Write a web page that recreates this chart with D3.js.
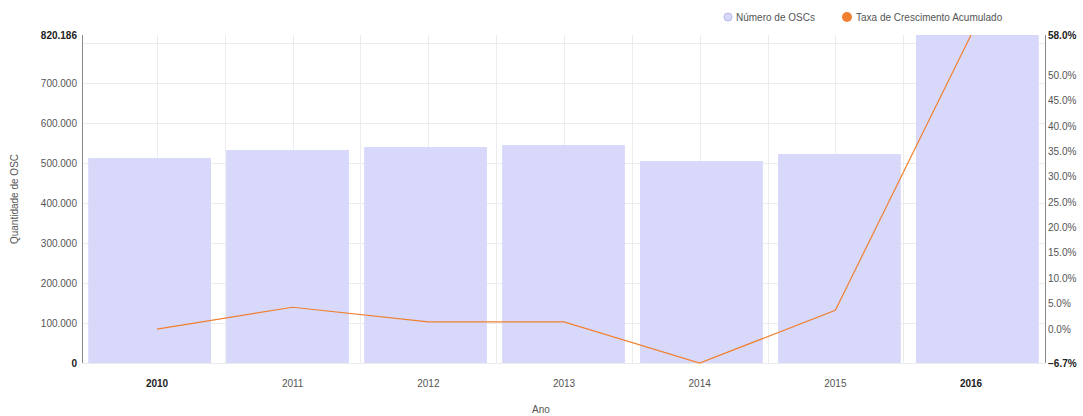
<!DOCTYPE html>
<html>
<head>
<meta charset="utf-8">
<script src="https://cdn.jsdelivr.net/npm/d3@7"></script>
<style>
  html, body { margin: 0; padding: 0; background: #fff; }
  svg { display: block; font-family: "Liberation Sans", Arial, sans-serif; }
</style>
</head>
<body>
<svg id="chart" width="1083" height="416"></svg>
<script>
// Número de OSCs por ano e taxa de crescimento acumulado
const years = ["2010", "2011", "2012", "2013", "2014", "2015", "2016"];
const oscCounts = [512500, 532500, 540000, 545000, 505000, 522500, 820186];
const growthRates = [0.0, 4.3, 1.4, 1.4, -6.7, 3.7, 58.0];
const leftTicks = [0, 100000, 200000, 300000, 400000, 500000, 600000, 700000, 800000];
const rightTicks = [0, 5, 10, 15, 20, 25, 30, 35, 40, 45, 50, 55];
const legendLabels = ["Número de OSCs", "Taxa de Crescimento Acumulado"];

const barColor = "#d8d8fb";
const lineColor = "#f0802f";
const textColor = "#555";

const svg = d3.select("#chart");
const m = { left: 82, right: 1045, top: 35, bottom: 363 };

const xBand = d3.scaleBand().domain(years).range([m.left, m.right])
  .paddingInner(0.11).paddingOuter(0.045);
const xPoint = d3.scalePoint().domain(years).range([157, 971]);

const yMax = d3.max(oscCounts);
const yLeft = d3.scaleLinear().domain([0, yMax]).range([m.bottom, m.top]);
const rMin = d3.min(growthRates), rMax = d3.max(growthRates);
const yRight = d3.scaleLinear().domain([rMin, rMax]).range([m.bottom, m.top]);

const fmtInt = n => d3.format(",")(n).replace(/,/g, ".");
const fmtPct = v => d3.format(".1f")(v) + "%";

// grid
const grid = svg.append("g").attr("stroke", "#ececf0").attr("stroke-width", 1);
leftTicks.forEach(t => {
  grid.append("line").attr("x1", m.left).attr("x2", m.right)
    .attr("y1", Math.round(yLeft(t)) + 0.5).attr("y2", Math.round(yLeft(t)) + 0.5);
});
const step = xPoint.step();
const vx = [];
years.forEach((y, i) => {
  vx.push(xPoint(y));
  if (i < years.length - 1) vx.push(xPoint(y) + step / 2);
});
vx.forEach(x => {
  grid.append("line").attr("x1", Math.round(x) + 0.5).attr("x2", Math.round(x) + 0.5)
    .attr("y1", m.top).attr("y2", m.bottom);
});

// bars
svg.append("g").selectAll("rect").data(years).join("rect")
  .attr("x", d => xBand(d))
  .attr("width", xBand.bandwidth())
  .attr("y", (d, i) => yLeft(oscCounts[i]))
  .attr("height", (d, i) => m.bottom - yLeft(oscCounts[i]))
  .attr("fill", barColor);

// growth line
const line = d3.line().x((d, i) => xPoint(years[i])).y(d => yRight(d));
svg.append("path").datum(growthRates)
  .attr("d", line)
  .attr("fill", "none")
  .attr("stroke", lineColor)
  .attr("stroke-width", 1.2);

// left axis
const leftAxis = svg.append("g").attr("transform", `translate(${m.left},0)`);
leftAxis.append("line").attr("x1", 0.5).attr("x2", 0.5).attr("y1", m.top).attr("y2", m.bottom)
  .attr("stroke", "#888");
const leftLabels = leftTicks.filter(t => yLeft(t) - yLeft(yMax) > 14).concat([yMax]);
leftLabels.forEach(t => {
  const bold = t === 0 || t === yMax;
  leftAxis.append("text").attr("x", -5).attr("y", yLeft(t)).attr("dy", "0.35em")
    .attr("text-anchor", "end").attr("font-size", 10)
    .attr("font-weight", bold ? "bold" : "normal")
    .attr("fill", bold ? "#222" : textColor)
    .text(fmtInt(t));
});

// right axis
const rightAxis = svg.append("g").attr("transform", `translate(${m.right},0)`);
rightAxis.append("line").attr("x1", 0.5).attr("x2", 0.5).attr("y1", m.top).attr("y2", m.bottom)
  .attr("stroke", "#888");
const rightLabels = rightTicks.filter(t => yRight(t) - yRight(rMax) > 20 && yRight(rMin) - yRight(t) > 14)
  .concat([rMin, rMax]);
rightLabels.forEach(t => {
  const bold = t === rMin || t === rMax;
  rightAxis.append("text").attr("x", 3).attr("y", yRight(t)).attr("dy", "0.35em")
    .attr("text-anchor", "start").attr("font-size", 10)
    .attr("font-weight", bold ? "bold" : "normal")
    .attr("fill", bold ? "#222" : textColor)
    .text(fmtPct(t));
});

// x labels
years.forEach((y, i) => {
  const bold = i === 0 || i === years.length - 1;
  svg.append("text").attr("x", xPoint(y)).attr("y", 387)
    .attr("text-anchor", "middle").attr("font-size", 10)
    .attr("font-weight", bold ? "bold" : "normal")
    .attr("fill", bold ? "#222" : textColor)
    .text(y);
});

// axis titles
svg.append("text").attr("x", 541).attr("y", 413).attr("text-anchor", "middle")
  .attr("font-size", 10).attr("fill", textColor).text("Ano");
svg.append("text").attr("transform", `translate(18,199) rotate(-90)`)
  .attr("text-anchor", "middle").attr("font-size", 10).attr("fill", textColor)
  .text("Quantidade de OSC");

// legend
const legend = svg.append("g").attr("transform", "translate(728,17)");
legend.append("circle").attr("cx", 0).attr("cy", 0).attr("r", 4)
  .attr("fill", barColor).attr("stroke", "#b8b8e8");
legend.append("text").attr("x", 8).attr("y", 0).attr("dy", "0.35em")
  .attr("font-size", 10).attr("fill", textColor).text(legendLabels[0]);
legend.append("circle").attr("cx", 119).attr("cy", 0).attr("r", 5).attr("fill", lineColor);
legend.append("text").attr("x", 128).attr("y", 0).attr("dy", "0.35em")
  .attr("font-size", 10).attr("fill", textColor).text(legendLabels[1]);
</script>
</body>
</html>
